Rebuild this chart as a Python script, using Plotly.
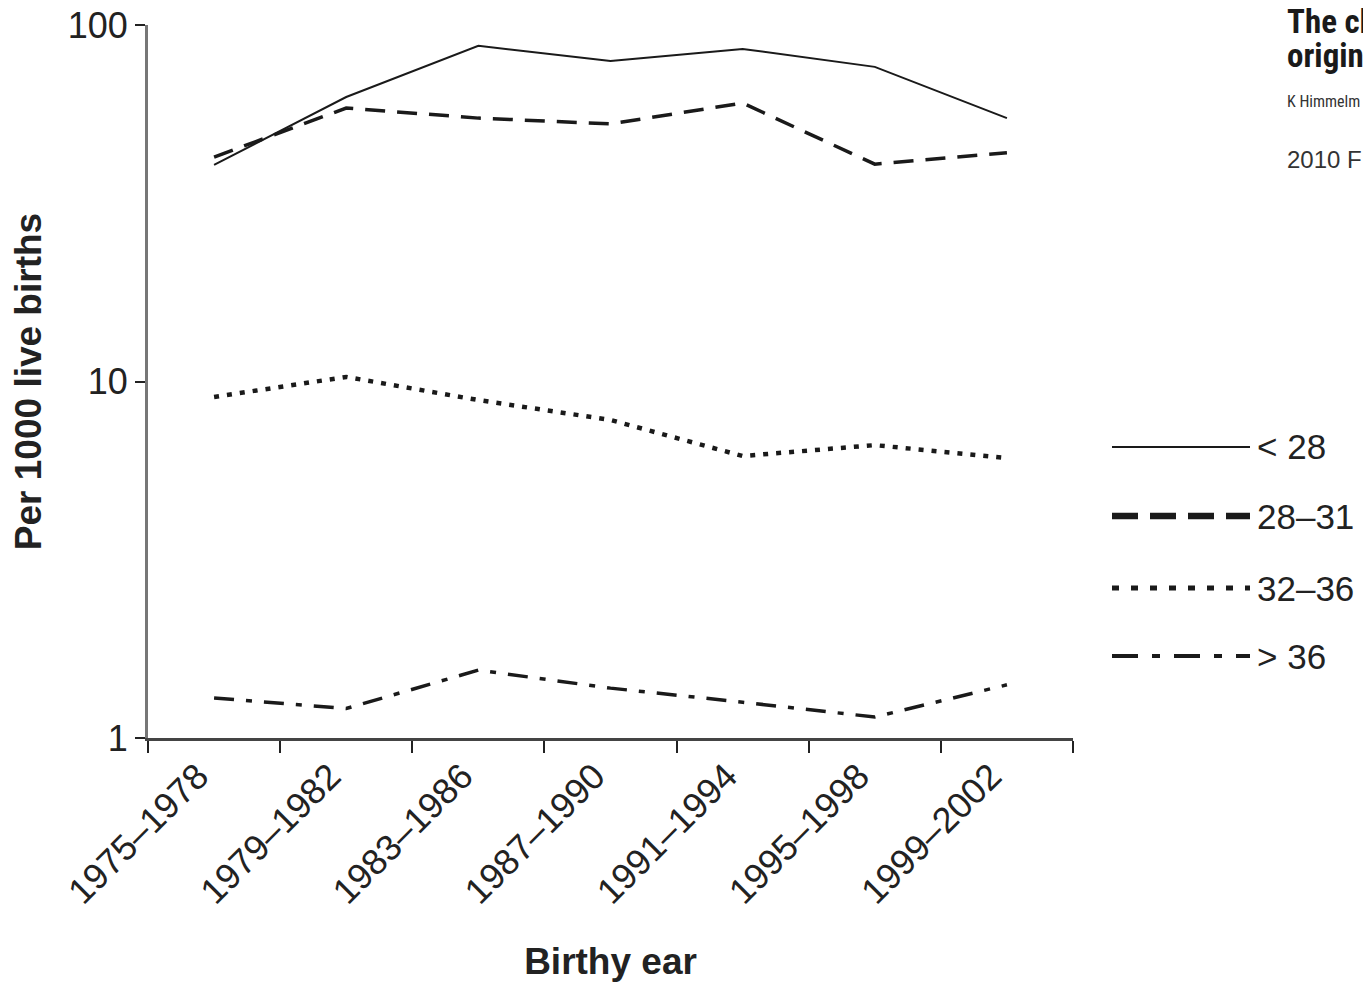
import plotly.graph_objects as go

periods = ["1975–1978", "1979–1982", "1983–1986", "1987–1990",
           "1991–1994", "1995–1998", "1999–2002"]
lt28 = [40.5, 62.8, 87.4, 79.2, 85.7, 76.3, 54.8]
w28_31 = [42.6, 58.5, 54.8, 52.8, 60.4, 40.7, 43.8]
w32_36 = [9.05, 10.3, 8.87, 7.8, 6.18, 6.63, 6.1]
gt36 = [1.295, 1.21, 1.55, 1.38, 1.26, 1.145, 1.41]
series_names = ["< 28", "28–31", "32–36", "> 36"]
ytick_vals = [1, 10, 100]
ytick_text = ["1", "10", "100"]

OFF = 8  # page body margin
# plot area in page pixels
PL, PR, PT, PB = 148, 1073, 25, 738
W, H = 1371 - 2 * OFF, 990 - 2 * OFF
L, R, T, B = PL - OFF, PR - OFF, PT - OFF, PB - OFF

styles = [
    dict(width=2, dash="solid"),
    dict(width=3.5, dash="20px,12px"),
    dict(width=4.5, dash="5px,8px"),
    dict(width=3.5, dash="20px,12px,6px,12px"),
]
legend_styles = [
    dict(width=2, dash="solid"),
    dict(width=6.5, dash="26px,12px"),
    dict(width=5, dash="7px,12px"),
    dict(width=4, dash="26px,14px,8px,14px"),
]

fig = go.Figure()
for name, vals, st in zip(series_names, [lt28, w28_31, w32_36, gt36], styles):
    fig.add_trace(go.Scatter(x=periods, y=vals, mode="lines", name=name,
                             line=dict(color="#1a1a1a", **st), showlegend=False))

def px_x(p):
    return (p - PL) / (PR - PL)

def px_y(p):
    return (PB - p) / (PB - PT)

font_main = "Liberation Sans, Arial, sans-serif"
leg_y = [447, 516, 588, 656]
for name, st, yy in zip(series_names, legend_styles, leg_y):
    fig.add_shape(type="line", xref="paper", yref="paper",
                  x0=px_x(1112), x1=px_x(1250), y0=px_y(yy), y1=px_y(yy),
                  line=dict(color="#1a1a1a", **st))
    fig.add_annotation(xref="paper", yref="paper", x=px_x(1255), y=px_y(yy),
                       text=name, showarrow=False, xanchor="left", yanchor="middle",
                       font=dict(family=font_main, size=35, color="#222"))

narrow = "Liberation Sans Narrow, Roboto Condensed, Arial Narrow, sans-serif"
fig.add_annotation(xref="paper", yref="paper", x=px_x(1285), y=px_y(22),
                   text="<b>The ch</b>", showarrow=False, xanchor="left", yanchor="middle",
                   font=dict(family=narrow, size=33, color="#1a1a1a"))
fig.add_annotation(xref="paper", yref="paper", x=px_x(1285), y=px_y(56),
                   text="<b>origin</b>", showarrow=False, xanchor="left", yanchor="middle",
                   font=dict(family=narrow, size=33, color="#1a1a1a"))
fig.add_annotation(xref="paper", yref="paper", x=px_x(1285), y=px_y(101),
                   text="K Himmelm", showarrow=False, xanchor="left", yanchor="middle",
                   font=dict(family=narrow, size=16, color="#333"))
fig.add_annotation(xref="paper", yref="paper", x=px_x(1285), y=px_y(160),
                   text="2010 F", showarrow=False, xanchor="left", yanchor="middle",
                   font=dict(family=font_main, size=24, color="#333"))

fig.update_layout(
    width=W, height=H,
    margin=dict(l=L, r=W - R, t=T, b=H - B, autoexpand=False),
    paper_bgcolor="white", plot_bgcolor="white",
    font=dict(family=font_main, color="#222"),
)
fig.update_xaxes(
    type="category", range=[-0.5, 6.5], tickson="boundaries", automargin=False,
    showline=True, linecolor="#444", linewidth=2.5,
    ticks="outside", ticklen=12, tickwidth=2, tickcolor="#222",
    tickangle=-45, ticklabelshift=-16,
    tickfont=dict(size=36, family=font_main, color="#222"),
    showgrid=False, zeroline=False,
    title=dict(text="<b>Birthy ear</b>", font=dict(size=37, family=font_main, color="#222"),
               standoff=46),
)
fig.update_yaxes(
    type="log", range=[0, 2], automargin=False, ticklabeloverflow="allow",
    tickvals=ytick_vals, ticktext=ytick_text,
    showline=True, linecolor="#777", linewidth=3,
    ticks="outside", ticklen=10, tickwidth=2, tickcolor="#222",
    tickfont=dict(size=36, family=font_main, color="#222"),
    showgrid=False, zeroline=False,
    title=dict(text="<b>Per 1000 live births</b>", font=dict(size=37, family=font_main, color="#222"),
               standoff=30),
)

fig.write_html("out.html")
